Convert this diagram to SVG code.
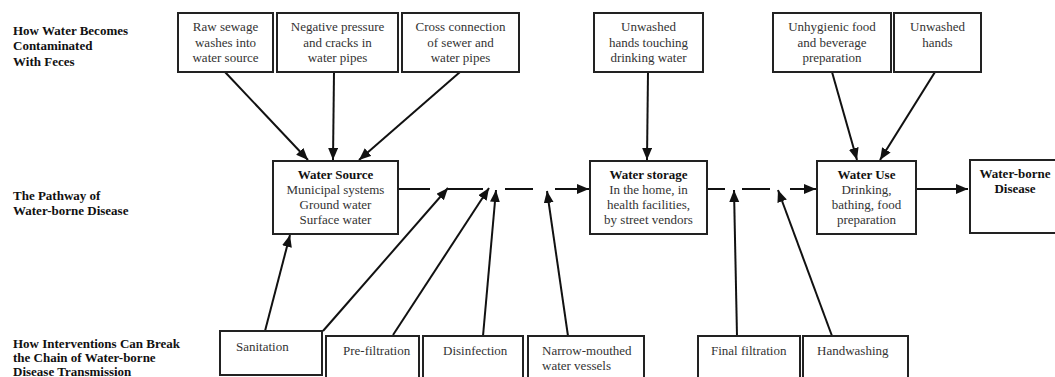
<svg xmlns="http://www.w3.org/2000/svg" width="1055" height="377" viewBox="0 0 1055 377">
<defs>
<marker id="ah" markerUnits="userSpaceOnUse" markerWidth="13" markerHeight="11" refX="12" refY="5" orient="auto">
<path d="M0,0 L12,5 L0,10 z" fill="#111"/>
</marker>
<style>
.box{fill:#fff;stroke:#222;stroke-width:2}
text{font-family:'Liberation Serif','Times New Roman','DejaVu Serif',serif}
.t{font-size:13px;fill:#333}
.c{text-anchor:middle}
.b{font-weight:bold;fill:#111}
.lbl{font-size:13px;font-weight:bold;fill:#111}
.ln{stroke:#111;stroke-width:2;fill:none}
.ar{stroke:#111;stroke-width:2;fill:none;marker-end:url(#ah)}
</style>
</defs>
<rect width="1055" height="377" fill="#fff"/>

<g id="row-labels">
<text class="lbl" x="13" y="35">How Water Becomes</text>
<text class="lbl" x="13" y="50">Contaminated</text>
<text class="lbl" x="13" y="66">With Feces</text>
<text class="lbl" x="13" y="200">The Pathway of</text>
<text class="lbl" x="13" y="215">Water-borne Disease</text>
<text class="lbl" x="13" y="348">How Interventions Can Break</text>
<text class="lbl" x="13" y="362">the Chain of Water-borne</text>
<text class="lbl" x="13" y="375.5">Disease Transmission</text>
</g>

<g id="connectors">
<line class="ar" x1="225" y1="72" x2="308" y2="160"/>
<line class="ar" x1="334" y1="72" x2="333" y2="160"/>
<line class="ar" x1="460" y1="72" x2="359" y2="160"/>
<line class="ar" x1="648" y1="72" x2="647" y2="160"/>
<line class="ar" x1="832" y1="72" x2="857" y2="160"/>
<line class="ar" x1="935" y1="72" x2="880" y2="160"/>

<line class="ln" x1="398" y1="189" x2="430" y2="189"/>
<line class="ln" x1="448" y1="189" x2="483" y2="189"/>
<line class="ln" x1="505" y1="189" x2="533" y2="189"/>
<line class="ar" x1="555" y1="189" x2="589" y2="189"/>
<line class="ln" x1="707" y1="189" x2="725" y2="189"/>
<line class="ln" x1="742" y1="189" x2="770" y2="189"/>
<line class="ar" x1="790" y1="189" x2="816" y2="189"/>
<line class="ar" x1="916" y1="189" x2="968" y2="189"/>

<line class="ar" x1="265" y1="331" x2="290" y2="235"/>
<line class="ar" x1="323" y1="331" x2="448" y2="188"/>
<line class="ar" x1="393" y1="335" x2="489" y2="188"/>
<line class="ar" x1="483" y1="336" x2="496" y2="190"/>
<line class="ar" x1="568" y1="336" x2="547" y2="191"/>
<line class="ar" x1="737" y1="336" x2="734" y2="190"/>
<line class="ar" x1="832" y1="336" x2="778" y2="190"/>
</g>

<g id="raw-sewage">
<rect class="box" x="178" y="13" width="95" height="59"/>
<text class="t c" x="225.5" y="31">Raw sewage</text>
<text class="t c" x="225.5" y="46.5">washes into</text>
<text class="t c" x="225.5" y="62">water source</text>
</g>
<g id="negative-pressure">
<rect class="box" x="277" y="13" width="121" height="59"/>
<text class="t c" x="337.5" y="31">Negative pressure</text>
<text class="t c" x="337.5" y="46.5">and cracks in</text>
<text class="t c" x="337.5" y="62">water pipes</text>
</g>
<g id="cross-connection">
<rect class="box" x="402" y="13" width="117" height="59"/>
<text class="t c" x="460.5" y="31">Cross connection</text>
<text class="t c" x="460.5" y="46.5">of sewer and</text>
<text class="t c" x="460.5" y="62">water pipes</text>
</g>
<g id="unwashed-hands-touching">
<rect class="box" x="594" y="13" width="109" height="59"/>
<text class="t c" x="648.5" y="31">Unwashed</text>
<text class="t c" x="648.5" y="46.5">hands touching</text>
<text class="t c" x="648.5" y="62">drinking water</text>
</g>
<g id="unhygienic-food">
<rect class="box" x="773" y="13" width="118" height="59"/>
<text class="t c" x="832" y="31">Unhygienic food</text>
<text class="t c" x="832" y="46.5">and beverage</text>
<text class="t c" x="832" y="62">preparation</text>
</g>
<g id="unwashed-hands">
<rect class="box" x="894" y="13" width="87" height="59"/>
<text class="t c" x="937.5" y="31">Unwashed</text>
<text class="t c" x="937.5" y="46.5">hands</text>
</g>

<g id="water-source">
<rect class="box" x="273" y="161" width="125" height="73"/>
<text class="t c b" x="335.5" y="179">Water Source</text>
<text class="t c" x="335.5" y="194">Municipal systems</text>
<text class="t c" x="335.5" y="209">Ground water</text>
<text class="t c" x="335.5" y="224">Surface water</text>
</g>
<g id="water-storage">
<rect class="box" x="590" y="161" width="117" height="73"/>
<text class="t c b" x="648.5" y="179">Water storage</text>
<text class="t c" x="648.5" y="194">In the home, in</text>
<text class="t c" x="648.5" y="209">health facilities,</text>
<text class="t c" x="648.5" y="224">by street vendors</text>
</g>
<g id="water-use">
<rect class="box" x="817" y="161" width="99" height="73"/>
<text class="t c b" x="866.5" y="179">Water Use</text>
<text class="t c" x="866.5" y="194">Drinking,</text>
<text class="t c" x="866.5" y="209">bathing, food</text>
<text class="t c" x="866.5" y="224">preparation</text>
</g>
<g id="water-borne-disease">
<rect class="box" x="970" y="160" width="92" height="73"/>
<text class="t c b" x="1015" y="178">Water-borne</text>
<text class="t c b" x="1015" y="193">Disease</text>
</g>

<g id="sanitation">
<rect class="box" x="220" y="331" width="102" height="44"/>
<text class="t" x="236" y="351">Sanitation</text>
</g>
<g id="pre-filtration">
<rect class="box" x="326" y="336" width="93" height="50"/>
<text class="t" x="343" y="355">Pre-filtration</text>
</g>
<g id="disinfection">
<rect class="box" x="423" y="336" width="100" height="50"/>
<text class="t" x="443" y="355">Disinfection</text>
</g>
<g id="narrow-mouthed">
<rect class="box" x="528" y="336" width="116" height="50"/>
<text class="t" x="542" y="355">Narrow-mouthed</text>
<text class="t" x="542" y="370">water vessels</text>
</g>
<g id="final-filtration">
<rect class="box" x="698" y="336" width="102" height="50"/>
<text class="t" x="711" y="355">Final filtration</text>
</g>
<g id="handwashing">
<rect class="box" x="803" y="336" width="105" height="50"/>
<text class="t" x="817" y="355">Handwashing</text>
</g>
</svg>
